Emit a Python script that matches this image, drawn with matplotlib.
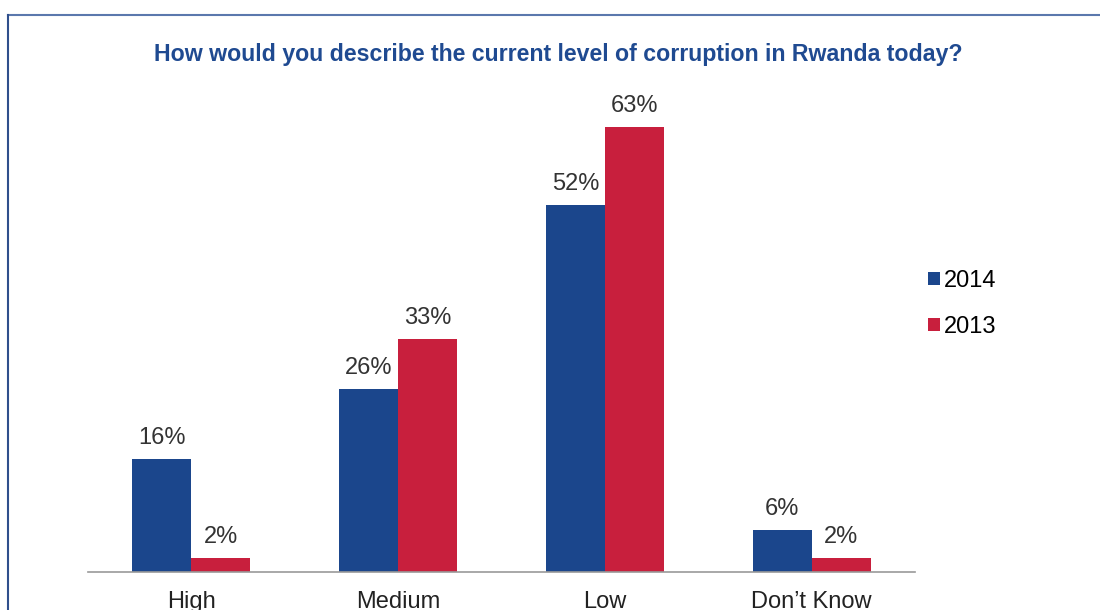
import numpy as np
import matplotlib.pyplot as plt
from matplotlib.lines import Line2D

plt.rcParams['font.family'] = ['Liberation Sans', 'DejaVu Sans']

categories = ["High", "Medium", "Low", "Don\u2019t Know"]
years = ["2014", "2013"]
values_2014 = [16, 26, 52, 6]
values_2013 = [2, 33, 63, 2]
colors = ["#1b468c", "#c81f3d"]

fig = plt.figure(figsize=(11, 6.1), dpi=100)
ax = fig.add_axes([0.08, 0.0623, 0.7518, 0.7738])

x = np.arange(len(categories))
w = 0.285
bars = []
for i, (vals, col) in enumerate(zip([values_2014, values_2013], colors)):
    off = (i - 0.5) * w
    b = ax.bar(x + off, vals, width=w, color=col, label=years[i])
    bars.append(b)
    for xi, v in zip(x + off, vals):
        ax.annotate(f"{v}%", (xi, v), xytext=(0, 10.8), textcoords="offset points",
                    ha="center", va="baseline", fontsize=17, color="#333333")

ax.set_xlim(-0.5, 3.5)
ax.set_ylim(0, 66.9)
ax.set_xticks(x)
ax.set_xticklabels(categories, fontsize=17, color="#222222")
ax.tick_params(axis="x", length=0, pad=14)
ax.set_yticks([])
for s in ["top", "right", "left"]:
    ax.spines[s].set_visible(False)
ax.spines["bottom"].set_color("#999999")
ax.spines["bottom"].set_linewidth(1.2)

fig.text(0.508, 0.911, "How would you describe the current level of corruption in Rwanda today?",
         ha="center", va="center", fontsize=16.7, color="#1f4a91", fontweight="semibold")

ax.legend(handles=[bars[0], bars[1]], labels=years, loc="upper left",
          bbox_to_anchor=(0.833, 0.5766), bbox_transform=fig.transFigure,
          frameon=False, fontsize=17, handlelength=0.5, handleheight=0.5,
          handletextpad=0.15, labelspacing=1.0, borderpad=0)

# outer frame
fig.add_artist(Line2D([8 / 1100, 1], [1 - 15 / 610, 1 - 15 / 610], transform=fig.transFigure,
                      color="#5b78ad", lw=1.5))
fig.add_artist(Line2D([8 / 1100, 8 / 1100], [0, 1 - 15 / 610], transform=fig.transFigure,
                      color="#2f4f8c", lw=1.5))

fig.savefig("out.png", dpi=100)
